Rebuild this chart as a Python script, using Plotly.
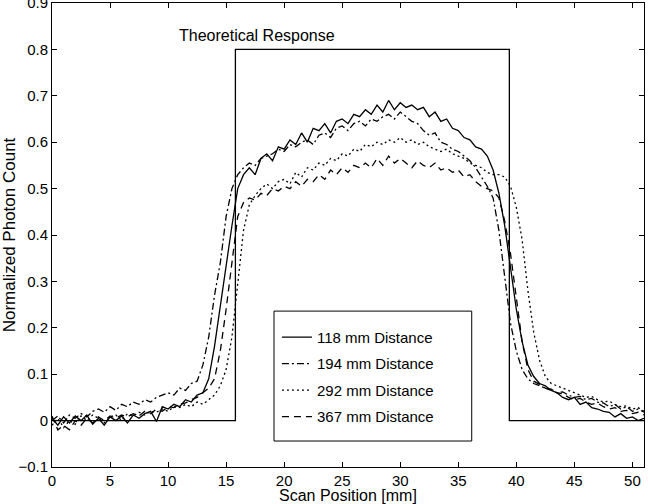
import plotly.graph_objects as go

# ---------------- data ----------------
scan_pos = [i * 0.5 for i in range(103)]  # 0 .. 51 mm

d118 = [0.005, -0.01, 0.008, -0.005, 0.01, 0.0, 0.012, -0.008, 0.005, -0.01,
        0.008, 0.0, 0.01, -0.005, 0.012, 0.005, 0.015, 0.02, -0.002, 0.03,
        0.025, 0.035, 0.03, 0.045, 0.04, 0.055, 0.06, 0.09, 0.16, 0.25,
        0.34, 0.42, 0.5, 0.53, 0.545, 0.53, 0.565, 0.575, 0.56, 0.59,
        0.585, 0.605, 0.595, 0.62, 0.6, 0.63, 0.625, 0.64, 0.62, 0.645,
        0.65, 0.64, 0.66, 0.655, 0.67, 0.66, 0.68, 0.665, 0.69, 0.67,
        0.685, 0.675, 0.68, 0.67, 0.675, 0.655, 0.665, 0.645, 0.65, 0.63,
        0.625, 0.61, 0.605, 0.59, 0.585, 0.57, 0.54, 0.49, 0.42, 0.33,
        0.24, 0.17, 0.12, 0.095, 0.08, 0.075, 0.065, 0.06, 0.05, 0.045,
        0.05, 0.035, 0.04, 0.028, 0.025, 0.02, 0.018, 0.008, 0.015, 0.005,
        0.008, 0.0, 0.005]

d194 = [0.0, 0.01, -0.005, 0.012, 0.005, 0.015, 0.008, 0.02, 0.025, 0.018,
        0.03, 0.022, 0.035, 0.03, 0.04, 0.035, 0.045, 0.04, 0.05, 0.055,
        0.06, 0.055, 0.07, 0.065, 0.08, 0.085, 0.12, 0.18, 0.27, 0.34,
        0.44, 0.5, 0.53, 0.545, 0.555, 0.55, 0.565, 0.57, 0.575, 0.585,
        0.58, 0.595, 0.59, 0.6, 0.605, 0.595, 0.615, 0.62, 0.61, 0.63,
        0.635, 0.625, 0.64, 0.645, 0.635, 0.65, 0.645, 0.655, 0.66, 0.65,
        0.665, 0.655, 0.645, 0.64, 0.625, 0.615, 0.62, 0.6, 0.595, 0.585,
        0.58, 0.57, 0.56, 0.545, 0.525, 0.505, 0.48, 0.41, 0.31, 0.21,
        0.15, 0.11, 0.09, 0.08, 0.075, 0.07, 0.068, 0.06, 0.062, 0.055,
        0.05, 0.052, 0.045, 0.048, 0.04, 0.038, 0.03, 0.035, 0.025, 0.03,
        0.02, 0.025, 0.018]

d292 = [-0.01, 0.005, -0.015, 0.0, -0.008, 0.01, 0.0, 0.012, 0.005, -0.005,
        0.008, 0.012, 0.0, 0.015, 0.01, 0.018, 0.012, 0.02, 0.018, 0.025,
        0.02, 0.03, 0.028, 0.035, 0.03, 0.04, 0.035, 0.045, 0.055, 0.075,
        0.11, 0.18, 0.3, 0.41, 0.465, 0.485, 0.5, 0.51, 0.5, 0.515,
        0.52, 0.51, 0.535, 0.525, 0.545, 0.54, 0.555, 0.55, 0.565, 0.56,
        0.575, 0.57, 0.585, 0.58, 0.595, 0.59, 0.6, 0.595, 0.605, 0.6,
        0.61, 0.6, 0.605, 0.595, 0.6, 0.59, 0.585, 0.58, 0.585, 0.575,
        0.57, 0.565, 0.555, 0.55, 0.545, 0.535, 0.53, 0.53, 0.525, 0.505,
        0.46, 0.39, 0.28, 0.19, 0.13, 0.095, 0.08, 0.075, 0.07, 0.065,
        0.06, 0.055, 0.05, 0.052, 0.045, 0.04, 0.042, 0.035, 0.03, 0.032,
        0.025, 0.028, 0.02]

d367 = [0.01, -0.02, -0.01, -0.02, 0.0, -0.01, 0.005, -0.005, 0.008, 0.0,
        0.01, 0.005, 0.012, 0.008, 0.015, 0.01, 0.02, 0.015, 0.025, 0.02,
        0.03, 0.028, 0.035, 0.038, 0.045, 0.05, 0.06, 0.07, 0.09, 0.15,
        0.24, 0.34, 0.44, 0.47, 0.48, 0.475, 0.49, 0.485, 0.5, 0.495,
        0.505, 0.5, 0.515, 0.505, 0.52, 0.515, 0.53, 0.52, 0.54, 0.53,
        0.545, 0.535, 0.55, 0.545, 0.555, 0.545, 0.565, 0.55, 0.57, 0.555,
        0.565, 0.555, 0.545, 0.56, 0.55, 0.545, 0.555, 0.54, 0.545, 0.535,
        0.54, 0.525, 0.53, 0.515, 0.505, 0.5, 0.495, 0.48, 0.43, 0.36,
        0.27, 0.17, 0.11, 0.085, 0.078, 0.07, 0.065, 0.06, 0.058, 0.05,
        0.045, 0.048, 0.04, 0.035, 0.038, 0.03, 0.025, 0.028, 0.02, 0.022,
        0.015, 0.018, 0.012]

theory_x = [0, 15.8, 15.8, 39.4, 39.4, 51]
theory_y = [0, 0, 0.8, 0.8, 0, 0]

series_names = ["118 mm Distance", "194 mm Distance", "292 mm Distance", "367 mm Distance"]
series_vals = [d118, d194, d292, d367]
series_dash = ["solid", "7px,3px,2px,3px", "2px,3px", "7px,5px"]

x_ticks = [0, 5, 10, 15, 20, 25, 30, 35, 40, 45, 50]
y_ticks = [-0.1, 0, 0.1, 0.2, 0.3, 0.4, 0.5, 0.6, 0.7, 0.8, 0.9]
y_ticktext = ["\u22120.1", "0", "0.1", "0.2", "0.3", "0.4", "0.5", "0.6", "0.7", "0.8", "0.9"]

FONT = "Liberation Sans, Arial, sans-serif"

fig = go.Figure()
fig.add_trace(go.Scatter(x=theory_x, y=theory_y, mode="lines",
                         line=dict(color="black", width=1.3),
                         showlegend=False, hoverinfo="skip"))
for name, vals, dash in zip(series_names, series_vals, series_dash):
    fig.add_trace(go.Scatter(x=scan_pos, y=vals, mode="lines", name=name,
                             legendgroup=name,
                             line=dict(color="black", width=1.3, dash=dash)))

fig.add_annotation(x=17.7, y=0.829, text="Theoretical Response", showarrow=False,
                   font=dict(family=FONT, size=16, color="black"))

# x-axis title placed just below the tick labels
fig.add_annotation(x=0.5, y=-0.062, xref="paper", yref="paper",
                   text="Scan Position [mm]", showarrow=False,
                   xanchor="center", yanchor="middle",
                   font=dict(family=FONT, size=16, color="black"))

# legend frame
fig.add_shape(type="rect", xref="paper", yref="paper",
              x0=0.375, x1=0.709, y0=0.056, y1=0.336,
              line=dict(color="black", width=1), fillcolor="white", layer="below")

axis_common = dict(showline=True, mirror="ticks", linecolor="black", linewidth=1,
                   ticks="inside", ticklen=5, tickcolor="black", showgrid=False,
                   zeroline=False, ticklabeloverflow="allow",
                   tickfont=dict(family=FONT, size=15, color="black"))

fig.update_layout(
    width=648, height=504,
    margin=dict(l=52, r=4, t=3, b=37),
    paper_bgcolor="white", plot_bgcolor="white",
    font=dict(family=FONT, size=15, color="black"),
    xaxis=dict(range=[0, 51], tickvals=x_ticks, automargin=False, **axis_common),
    yaxis=dict(range=[-0.1, 0.9], tickvals=y_ticks, ticktext=y_ticktext, automargin=False,
               title=dict(text="Normalized Photon Count", font=dict(size=17), standoff=3),
               **axis_common),
    legend=dict(x=0.38, y=0.315, xanchor="left", yanchor="top",
                bgcolor="rgba(0,0,0,0)", borderwidth=0,
                traceorder="grouped", tracegroupgap=4,
                font=dict(family=FONT, size=15, color="black")),
)

fig.write_html("out.html")
